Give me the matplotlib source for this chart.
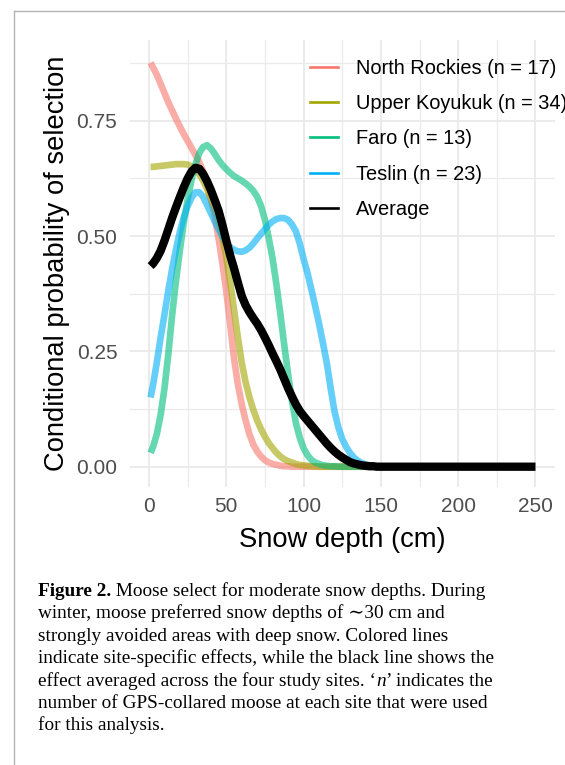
import matplotlib.pyplot as plt
from matplotlib.lines import Line2D

# snow depth (cm) sampled for the site curves: 1, 2.5, 5, ..., 150
depth = [1] + [2.5 * k for k in range(1, 61)]

north_rockies = [0.876, 0.866, 0.85, 0.83, 0.81, 0.79, 0.772, 0.754, 0.737, 0.721,
                 0.706, 0.691, 0.676, 0.66, 0.64, 0.614, 0.582, 0.543, 0.495, 0.44,
                 0.38, 0.308, 0.235, 0.178, 0.135, 0.1, 0.07, 0.048, 0.033, 0.022,
                 0.014, 0.009, 0.006, 0.004, 0.002, 0.001, 0.001, 0, 0, 0,
                 0, 0, 0, 0, 0, 0, 0, 0, 0, 0,
                 0, 0, 0, 0, 0, 0, 0, 0, 0, 0,
                 0]
upper_koyukuk = [0.65, 0.65, 0.651, 0.652, 0.653, 0.654, 0.655, 0.656, 0.656, 0.656,
                 0.655, 0.651, 0.645, 0.634, 0.62, 0.602, 0.58, 0.557, 0.53, 0.497,
                 0.455, 0.4, 0.34, 0.28, 0.225, 0.183, 0.15, 0.123, 0.1, 0.081,
                 0.065, 0.051, 0.04, 0.03, 0.022, 0.016, 0.012, 0.009, 0.006, 0.004,
                 0.003, 0.002, 0.001, 0.001, 0, 0, 0, 0, 0, 0,
                 0, 0, 0, 0, 0, 0, 0, 0, 0, 0,
                 0]
faro = [0.03, 0.042, 0.07, 0.112, 0.17, 0.245, 0.33, 0.405, 0.47, 0.53,
        0.58, 0.622, 0.655, 0.68, 0.693, 0.697, 0.69, 0.678, 0.665, 0.654,
        0.645, 0.637, 0.63, 0.625, 0.62, 0.614, 0.607, 0.598, 0.585, 0.565,
        0.535, 0.495, 0.45, 0.393, 0.33, 0.263, 0.2, 0.142, 0.095, 0.063,
        0.04, 0.025, 0.015, 0.009, 0.006, 0.003, 0.002, 0.001, 0.001, 0,
        0, 0, 0, 0, 0, 0, 0, 0, 0, 0,
        0]
teslin = [0.15, 0.175, 0.225, 0.28, 0.33, 0.382, 0.43, 0.472, 0.51, 0.541,
          0.565, 0.583, 0.595, 0.595, 0.585, 0.568, 0.55, 0.532, 0.515, 0.499,
          0.485, 0.476, 0.47, 0.467, 0.466, 0.469, 0.475, 0.484, 0.495, 0.505,
          0.515, 0.525, 0.532, 0.537, 0.539, 0.539, 0.535, 0.525, 0.51, 0.484,
          0.45, 0.42, 0.385, 0.348, 0.31, 0.268, 0.225, 0.17, 0.12, 0.085,
          0.06, 0.043, 0.03, 0.02, 0.013, 0.008, 0.005, 0.003, 0.002, 0.001,
          0]

depth_avg = depth + [200, 250]
average = [0.435, 0.44, 0.452, 0.468, 0.49, 0.515, 0.54, 0.563, 0.585, 0.606,
           0.625, 0.64, 0.648, 0.646, 0.635, 0.619, 0.6, 0.578, 0.555, 0.524,
           0.49, 0.458, 0.43, 0.399, 0.37, 0.35, 0.335, 0.322, 0.31, 0.296,
           0.28, 0.263, 0.245, 0.228, 0.21, 0.19, 0.17, 0.152, 0.135, 0.121,
           0.11, 0.1, 0.09, 0.08, 0.07, 0.06, 0.05, 0.041, 0.033, 0.026,
           0.02, 0.015, 0.01, 0.007, 0.005, 0.003, 0.002, 0.001, 0.001, 0,
           0, 0, 0]

sites = ["North Rockies (n = 17)", "Upper Koyukuk (n = 34)",
         "Faro (n = 13)", "Teslin (n = 23)"]
site_values = [north_rockies, upper_koyukuk, faro, teslin]
colors = ["#F8766D", "#A3A500", "#00BF7D", "#00B0F6"]

caption = [
    "winter, moose preferred snow depths of \u223c30 cm and",
    "strongly avoided areas with deep snow. Colored lines",
    "indicate site-specific effects, while the black line shows the",
    "effect averaged across the four study sites. \u2018",
    "number of GPS-collared moose at each site that were used",
    "for this analysis.",
]

W, H = 565, 765
fig = plt.figure(figsize=(W / 100, H / 100), dpi=100)
plt.rcParams['font.family'] = ['Liberation Sans', 'DejaVu Sans']

left, right, top, bottom = 129.7, 554.8, 40.5, 487.0
ax = fig.add_axes([left / W, 1 - bottom / H, (right - left) / W, (bottom - top) / H])

for vals, c in zip(site_values, colors):
    ax.plot(depth, vals, color=c, alpha=0.6, lw=4.8,
            solid_capstyle='butt', solid_joinstyle='round')
ax.plot(depth_avg, average, color='black', lw=6,
        solid_capstyle='butt', solid_joinstyle='round')

ax.set_xlim(-12.5, 262.5)
ax.set_ylim(-0.044, 0.924)
ax.set_xticks([0, 50, 100, 150, 200, 250])
ax.set_xticks([25, 75, 125, 175, 225], minor=True)
ax.set_yticks([0, 0.25, 0.5, 0.75])
ax.set_yticklabels(["0.00", "0.25", "0.50", "0.75"])
ax.set_yticks([0.125, 0.375, 0.625, 0.875], minor=True)
ax.grid(which='major', color='#EBEBEB', lw=1.4)
ax.grid(which='minor', color='#EBEBEB', lw=0.9)
ax.set_axisbelow(True)
ax.tick_params(which='both', length=0, labelsize=15, labelcolor='#4D4D4D')
ax.tick_params(axis='x', pad=7)
ax.tick_params(axis='y', pad=8.9)
for s in ax.spines.values():
    s.set_visible(False)

fig.text(342 / W, 1 - 546.6 / H, "Snow depth (cm)", fontsize=19.7,
         ha='center', va='baseline')
fig.text(57.5 / W, 1 - 263.75 / H, "Conditional probability of selection",
         fontsize=19.7, rotation=90, ha='center', va='center')

handles = [Line2D([], [], color=c, lw=1.9) for c in colors]
handles.append(Line2D([], [], color='black', lw=1.9))
fig.legend(handles, sites + ["Average"], loc='upper left',
           bbox_to_anchor=(310 / W, 1 - 58.5 / H), frameon=False, fontsize=14.4,
           handlelength=1.4, handletextpad=0.9, labelspacing=0.82, borderpad=0,
           borderaxespad=0)

# caption
serif = ['Liberation Serif', 'DejaVu Serif']
cap_size = 13.9
x0 = 38 / W
b1 = fig.text(x0, 1 - 596 / H, "Figure 2.", fontsize=cap_size, family=serif,
              weight='bold', va='baseline')
ax.annotate(" Moose select for moderate snow depths. During", xy=(1, 0),
            xycoords=b1, va='bottom', ha='left', fontsize=cap_size, family=serif,
            annotation_clip=False)
step = 22.4
for i, line in enumerate(caption):
    t = fig.text(x0, 1 - (596 + step * (i + 1)) / H, line, fontsize=cap_size,
                 family=serif, va='baseline')
    if i == 3:
        n = ax.annotate("n", xy=(1, 0), xycoords=t, va='bottom', ha='left',
                        fontsize=cap_size, family=serif, style='italic',
                        annotation_clip=False)
        ax.annotate("\u2019 indicates the", xy=(1, 0), xycoords=n, va='bottom',
                    ha='left', fontsize=cap_size, family=serif,
                    annotation_clip=False)

# page border
fig.add_artist(Line2D([13.5 / W, 13.5 / W], [0, 1 - 10.5 / H],
                      transform=fig.transFigure, color='#B4B4B4', lw=1))
fig.add_artist(Line2D([13.5 / W, 1], [1 - 10.5 / H, 1 - 10.5 / H],
                      transform=fig.transFigure, color='#B4B4B4', lw=1))

fig.savefig("out.png", dpi=100)
